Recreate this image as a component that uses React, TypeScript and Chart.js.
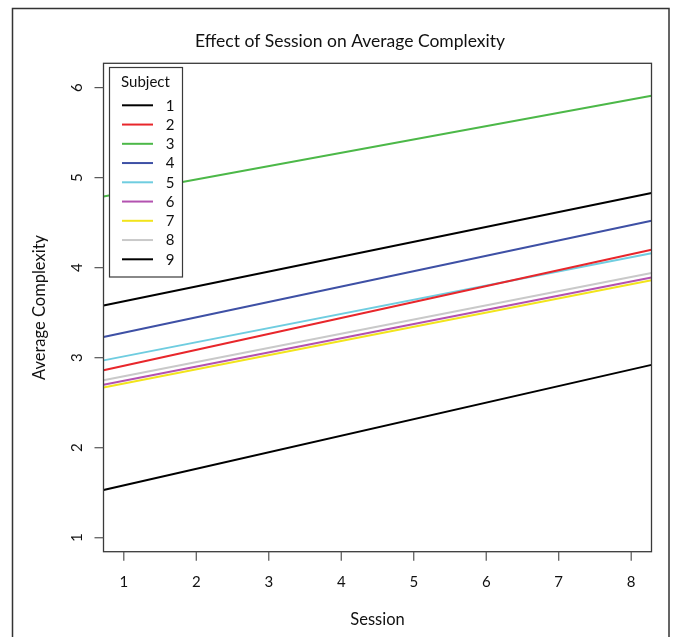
import { useEffect, useRef } from 'react';
import { Chart, registerables } from 'chart.js';

Chart.register(...registerables);

const chartTitle = 'Effect of Session on Average Complexity';
const xAxisTitle = 'Session';
const yAxisTitle = 'Average Complexity';
const legendTitle = 'Subject';

const subjects = ['1', '2', '3', '4', '5', '6', '7', '8', '9'];
const sessionTicks = [1, 2, 3, 4, 5, 6, 7, 8];
const complexityTicks = [1, 2, 3, 4, 5, 6];
const sessionRange = [0.72, 8.28];
const complexityRange = [0.845, 6.27];
// fitted line values at the left and right edges of the session range
const fitAtStart = [1.53, 2.86, 4.79, 3.23, 2.97, 2.7, 2.67, 2.75, 3.58];
const fitAtEnd = [2.92, 4.2, 5.91, 4.52, 4.16, 3.89, 3.86, 3.94, 4.83];
const subjectColors = [
  '#000000',
  '#e8262b',
  '#4cb848',
  '#3e50a5',
  '#6fcde0',
  '#b352b0',
  '#f2e41c',
  '#c9c9c9',
  '#000000',
];

const FONT = 'Lato, "Open Sans", sans-serif';

const rPlotPlugin = {
  id: 'rPlot',
  beforeDraw(chart: any) {
    const ctx = chart.ctx;
    ctx.save();
    ctx.fillStyle = '#ffffff';
    ctx.fillRect(0, 0, chart.width, chart.height);
    ctx.restore();
  },
  afterDatasetsDraw(chart: any) {
    const ctx = chart.ctx;
    const area = chart.chartArea;
    const xs = chart.scales.x;
    const ys = chart.scales.y;
    ctx.save();

    // plot box
    ctx.strokeStyle = '#3a3a3a';
    ctx.lineWidth = 1.3;
    ctx.strokeRect(area.left, area.top, area.right - area.left, area.bottom - area.top);

    // x ticks + labels
    ctx.fillStyle = '#111';
    ctx.font = `15px ${FONT}`;
    ctx.textAlign = 'center';
    ctx.textBaseline = 'middle';
    ctx.strokeStyle = '#555';
    ctx.lineWidth = 1.2;
    sessionTicks.forEach((v) => {
      const px = xs.getPixelForValue(v);
      ctx.beginPath();
      ctx.moveTo(px, area.bottom);
      ctx.lineTo(px, area.bottom + 9);
      ctx.stroke();
      ctx.fillText(String(v), px, 582);
    });

    // y ticks + labels (rotated)
    complexityTicks.forEach((v) => {
      const py = ys.getPixelForValue(v);
      ctx.beginPath();
      ctx.moveTo(area.left - 9, py);
      ctx.lineTo(area.left, py);
      ctx.stroke();
      ctx.save();
      ctx.translate(77, py);
      ctx.rotate(-Math.PI / 2);
      ctx.fillText(String(v), 0, 0);
      ctx.restore();
    });

    // axis titles
    ctx.font = `16.5px ${FONT}`;
    ctx.fillText(xAxisTitle, (area.left + area.right) / 2, 620);
    ctx.save();
    ctx.translate(40, (area.top + area.bottom) / 2);
    ctx.rotate(-Math.PI / 2);
    ctx.fillText(yAxisTitle, 0, 0);
    ctx.restore();

    // main title
    ctx.font = `17.5px ${FONT}`;
    ctx.fillText(chartTitle, 350, 41);

    // legend
    const lx0 = 109.5;
    const ly0 = 67.5;
    const lx1 = 182.5;
    const ly1 = 277;
    ctx.fillStyle = '#ffffff';
    ctx.fillRect(lx0, ly0, lx1 - lx0, ly1 - ly0);
    ctx.strokeStyle = '#3a3a3a';
    ctx.lineWidth = 1.2;
    ctx.strokeRect(lx0, ly0, lx1 - lx0, ly1 - ly0);
    ctx.fillStyle = '#111';
    ctx.font = `15px ${FONT}`;
    ctx.fillText(legendTitle, 145.5, 82);
    subjects.forEach((s, i) => {
      const y = 105.3 + i * 19.25;
      ctx.strokeStyle = subjectColors[i];
      ctx.lineWidth = 2;
      ctx.beginPath();
      ctx.moveTo(122, y);
      ctx.lineTo(153, y);
      ctx.stroke();
      ctx.fillStyle = '#111';
      ctx.fillText(s, 170, y + 0.5);
    });

    // outer frame
    ctx.strokeStyle = '#333';
    ctx.lineWidth = 1.5;
    ctx.strokeRect(12.5, 8.5, 656.5, 640);
    ctx.restore();
  },
};

export default function App() {
  const canvasRef = useRef<HTMLCanvasElement | null>(null);

  useEffect(() => {
    document.body.style.margin = '0';
    const canvas = canvasRef.current;
    if (!canvas) return;
    const datasets = subjects.map((s, i) => ({
      label: s,
      data: [
        { x: sessionRange[0], y: fitAtStart[i] },
        { x: sessionRange[1], y: fitAtEnd[i] },
      ],
      borderColor: subjectColors[i],
      backgroundColor: subjectColors[i],
      borderWidth: 2,
      pointRadius: 0,
      fill: false,
      tension: 0,
    }));
    const chart = new Chart(canvas, {
      type: 'line',
      data: { datasets },
      options: {
        responsive: false,
        animation: false,
        events: [],
        layout: { padding: { left: 103.5, right: 22.5, top: 63.3, bottom: 85.3 } },
        scales: {
          x: { type: 'linear', display: false, min: sessionRange[0], max: sessionRange[1] },
          y: { type: 'linear', display: false, min: complexityRange[0], max: complexityRange[1] },
        },
        plugins: {
          legend: { display: false },
          title: { display: false },
          tooltip: { enabled: false },
        },
      },
      plugins: [rPlotPlugin],
    });
    return () => chart.destroy();
  }, []);

  return (
    <div style={{ width: 674, height: 637, margin: 0, padding: 0 }}>
      <canvas ref={canvasRef} width={674} height={637} style={{ display: 'block' }} />
    </div>
  );
}
